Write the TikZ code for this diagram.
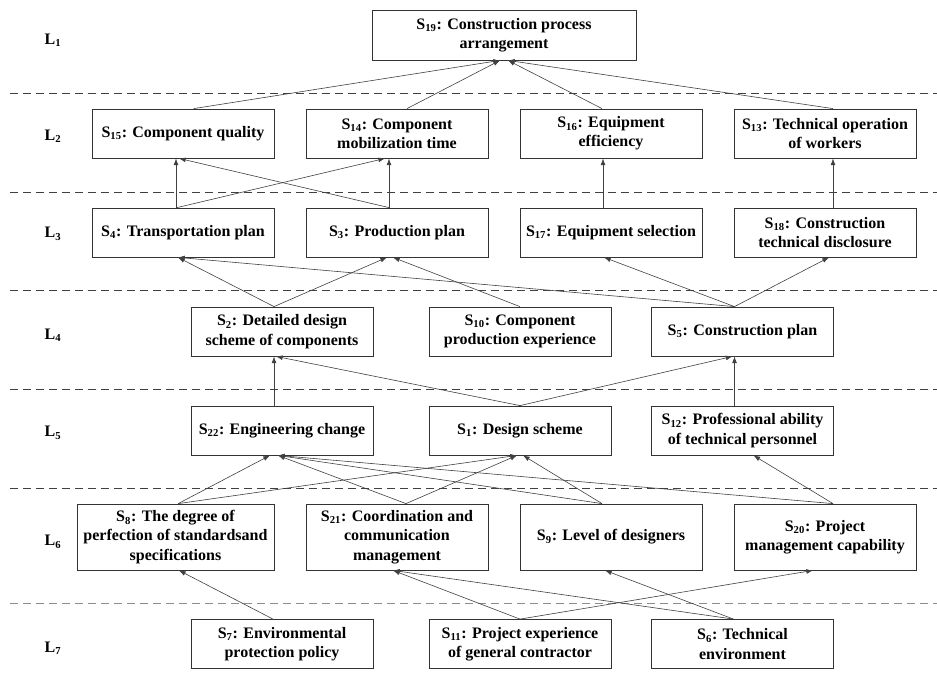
\documentclass[tikz,border=0pt]{standalone}
\usepackage{fontspec}
\setmainfont{Liberation Serif}
\usetikzlibrary{arrows.meta}

\begin{document}
\begin{tikzpicture}[x=0.75pt,y=-0.75pt]
        \tikzstyle{factor}=[draw=black!80, line width=0.6pt, minimum width=136.5pt, minimum height=36.75pt, inner sep=2pt, align=center, font=\fontsize{12}{14.5}\selectfont\bfseries]
        \tikzstyle{tall}=[minimum height=49.5pt]
        \tikzstyle{level}=[font=\fontsize{12}{14.5}\selectfont\bfseries]
        \tikzstyle{layerline}=[draw=black!75, line width=0.7pt, dash pattern=on 6pt off 3.75pt]
        \tikzstyle{link}=[->, >={Latex[length=5pt,width=3.6pt]}, draw=black!75, line width=0.45pt]
        \useasboundingbox (0,0) rectangle (937,699);

        % levels
        \node[level] (l1) at (53,40) {L\textsubscript{1}};
        \node[level] (l2) at (53,136) {L\textsubscript{2}};
        \node[level] (l3) at (53,234) {L\textsubscript{3}};
        \node[level] (l4) at (53,335) {L\textsubscript{4}};
        \node[level] (l5) at (53,433) {L\textsubscript{5}};
        \node[level] (l6) at (53,542) {L\textsubscript{6}};
        \node[level] (l7) at (53,648) {L\textsubscript{7}};
        \draw[layerline] (10,93) -- (937,93);
        \draw[layerline] (10,192) -- (937,192);
        \draw[layerline] (10,290) -- (937,290);
        \draw[layerline] (10,389) -- (937,389);
        \draw[layerline] (10,488) -- (937,488);
        \draw[layerline, draw=black!45] (10,603) -- (937,603);

        % factors
        \node[factor, minimum width=198pt, minimum height=37.5pt] (s19) at (504,35) {S\textsubscript{19}: Construction process\\arrangement};

        \node[factor] (s15) at (183,133.5) {S\textsubscript{15}: Component quality};
        \node[factor] (s14) at (397,133.5) {S\textsubscript{14}: Component\\mobilization time};
        \node[factor] (s16) at (611,133.5) {S\textsubscript{16}: Equipment\\efficiency};
        \node[factor] (s13) at (825,133.5) {S\textsubscript{13}: Technical operation\\of workers};

        \node[factor] (s4) at (183,232.5) {S\textsubscript{4}: Transportation plan};
        \node[factor] (s3) at (397,232.5) {S\textsubscript{3}: Production plan};
        \node[factor] (s17) at (611,232.5) {S\textsubscript{17}: Equipment selection};
        \node[factor] (s18) at (825,232.5) {S\textsubscript{18}: Construction\\technical disclosure};

        \node[factor] (s2) at (282,331.5) {S\textsubscript{2}: Detailed design\\scheme of components};
        \node[factor] (s10) at (520,331.5) {S\textsubscript{10}: Component\\production experience};
        \node[factor] (s5) at (742.5,331.5) {S\textsubscript{5}: Construction plan};

        \node[factor] (s22) at (282,430.5) {S\textsubscript{22}: Engineering change};
        \node[factor] (s1) at (520,430.5) {S\textsubscript{1}: Design scheme};
        \node[factor] (s12) at (742.5,430.5) {S\textsubscript{12}: Professional ability\\of technical personnel};

        \node[factor, tall, minimum width=147.75pt] (s8) at (175.5,537) {S\textsubscript{8}: The degree of\\perfection of standardsand\\specifications};
        \node[factor, tall] (s21) at (397,537) {S\textsubscript{21}: Coordination and\\communication\\management};
        \node[factor, tall] (s9) at (611,537) {S\textsubscript{9}: Level of designers};
        \node[factor, tall] (s20) at (825,537) {S\textsubscript{20}: Project\\management capability};

        \node[factor] (s7) at (282,644) {S\textsubscript{7}: Environmental\\protection policy};
        \node[factor] (s11) at (520,644) {S\textsubscript{11}: Project experience\\of general contractor};
        \node[factor] (s6) at (742.5,644) {S\textsubscript{6}: Technical\\environment};

        % L2 -> L1
        \draw[link] ([xshift=8pt]s15.north) -- ([xshift=-3pt]s19.south);
        \draw[link] ([xshift=7.5pt]s14.north) -- ([xshift=-3pt]s19.south);
        \draw[link] ([xshift=-6.75pt]s16.north) -- ([xshift=3pt]s19.south);
        \draw[link] ([xshift=6pt]s13.north) -- ([xshift=3pt]s19.south);
        % L3 -> L2
        \draw[link] ([xshift=-5.25pt]s4.north) -- ([xshift=-5.25pt]s15.south);
        \draw[link] ([xshift=-4.5pt]s4.north) -- ([xshift=-9pt]s14.south);
        \draw[link] ([xshift=-6pt]s3.north) -- ([xshift=-3pt]s15.south);
        \draw[link] ([xshift=-6pt]s3.north) -- ([xshift=-6pt]s14.south);
        \draw[link] ([xshift=-6pt]s17.north) -- ([xshift=-6pt]s16.south);
        \draw[link] ([xshift=6pt]s18.north) -- ([xshift=6pt]s13.south);
        % L4 -> L3
        \draw[link] ([xshift=-6pt]s2.north) -- ([xshift=-3.75pt]s4.south);
        \draw[link] ([xshift=-6pt]s2.north) -- ([xshift=-7.5pt]s3.south);
        \draw[link] (s10.north) -- ([xshift=-3pt]s3.south);
        \draw[link] ([xshift=-6pt]s5.north) -- ([xshift=-3.75pt]s4.south);
        \draw[link] ([xshift=-6pt]s5.north) -- ([xshift=-5.25pt]s17.south);
        \draw[link] ([xshift=-6pt]s5.north) -- ([xshift=3pt]s18.south);
        % L5 -> L4
        \draw[link] ([xshift=-6pt]s22.north) -- ([xshift=-6pt]s2.south);
        \draw[link] (s1.north) -- ([xshift=-4.5pt]s2.south);
        \draw[link] (s1.north) -- ([xshift=-7.5pt]s5.south);
        \draw[link] ([xshift=-6pt]s12.north) -- ([xshift=-6pt]s5.south);
        % L6 -> L5
        \draw[link] ([xshift=2pt]s8.north) -- ([xshift=-9pt]s22.south);
        \draw[link] ([xshift=2pt]s8.north) -- ([xshift=-2.25pt]s1.south);
        \draw[link] ([xshift=6.75pt]s21.north) -- ([xshift=-3pt]s22.south);
        \draw[link] ([xshift=6.75pt]s21.north) -- ([xshift=-2.25pt]s1.south);
        \draw[link] ([xshift=-6.75pt]s9.north) -- ([xshift=-3pt]s22.south);
        \draw[link] ([xshift=-6.75pt]s9.north) -- ([xshift=2.25pt]s1.south);
        \draw[link] ([xshift=6pt]s20.north) -- ([xshift=-3pt]s22.south);
        \draw[link] ([xshift=6pt]s20.north) -- ([xshift=8.25pt]s12.south);
        % L7 -> L6
        \draw[link] ([xshift=-6.75pt]s7.north) -- ([xshift=2.6pt]s8.south);
        \draw[link] (s11.north) -- ([xshift=-3pt]s21.south);
        \draw[link] (s11.north) -- ([xshift=-9pt]s20.south);
        \draw[link] ([xshift=-6.75pt]s6.north) -- ([xshift=-4.5pt]s9.south);
        \draw[link] ([xshift=-6.75pt]s6.north) -- ([xshift=-3pt]s21.south);
\end{tikzpicture}
\end{document}
